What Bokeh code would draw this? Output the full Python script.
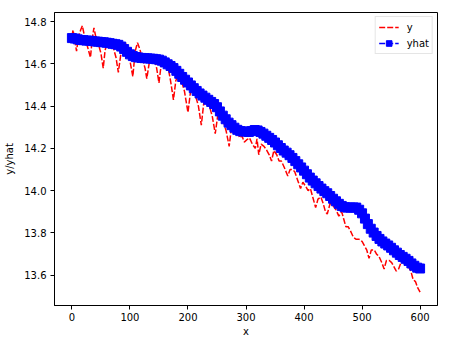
from bokeh.plotting import figure
from bokeh.models import ColumnDataSource, FixedTicker, NumeralTickFormatter, Range1d
from bokeh.embed import file_html
from bokeh.resources import INLINE

# observed series y (red dashed)
y_x = [0, 2, 5, 8, 11, 15, 18, 21, 25, 29, 32, 35, 38, 41, 45, 50, 54, 57, 61, 66,
       71, 76, 80, 84, 88, 92, 97, 101, 105, 109, 113, 117, 121, 126, 129, 133, 137, 142, 146, 150,
       154, 158, 162, 166, 170, 175, 179, 184, 189, 194, 200, 204, 208, 213, 218, 223, 227, 232, 237, 242,
       247, 251, 256, 261, 266, 271, 275, 279, 284, 289, 293, 297, 301, 306, 311, 316, 319, 322, 326, 331,
       336, 340, 344, 348, 353, 357, 361, 366, 372, 376, 380, 384, 389, 394, 398, 403, 407, 411, 415, 420,
       424, 429, 433, 437, 440, 445, 450, 455, 460, 465, 469, 472, 476, 480, 485, 490, 495, 500, 504, 508,
       512, 516, 521, 525, 529, 534, 538, 542, 547, 551, 555, 559, 563, 567, 571, 576, 580, 584, 588, 592,
       596, 600]
y_val = [14.73, 14.76, 14.71, 14.66, 14.72, 14.76, 14.78, 14.74, 14.70, 14.66, 14.63, 14.72, 14.77, 14.73, 14.70, 14.65, 14.58, 14.66, 14.71, 14.70,
         14.68, 14.63, 14.56, 14.64, 14.69, 14.70, 14.66, 14.60, 14.54, 14.66, 14.70, 14.67, 14.63, 14.58, 14.53, 14.60, 14.63, 14.63, 14.58, 14.51,
         14.60, 14.63, 14.60, 14.58, 14.52, 14.43, 14.52, 14.55, 14.52, 14.47, 14.37, 14.46, 14.48, 14.45, 14.40, 14.31, 14.41, 14.43, 14.40, 14.35,
         14.27, 14.35, 14.37, 14.33, 14.28, 14.21, 14.30, 14.33, 14.30, 14.25, 14.26, 14.23, 14.24, 14.25, 14.22, 14.20, 14.245, 14.17, 14.22, 14.21,
         14.19, 14.17, 14.14, 14.19, 14.17, 14.14, 14.14, 14.11, 14.07, 14.10, 14.10, 14.09, 14.05, 14.01, 14.04, 14.02, 14.00, 14.01, 13.97, 13.92,
         13.96, 13.97, 13.94, 13.90, 13.89, 13.94, 13.93, 13.91, 13.88, 13.90, 13.86, 13.83, 13.83, 13.81, 13.78, 13.77, 13.77, 13.76, 13.74, 13.72,
         13.68, 13.72, 13.72, 13.70, 13.69, 13.66, 13.63, 13.67, 13.67, 13.66, 13.64, 13.62, 13.63, 13.66, 13.66, 13.66, 13.64, 13.62, 13.58, 13.57,
         13.54, 13.52]

# fitted series yhat (blue squares)
yhat_x = list(range(0, 601, 5))
yhat_val = [14.722, 14.720, 14.716, 14.713, 14.712, 14.710, 14.710, 14.708, 14.706, 14.705,
            14.703, 14.702, 14.700, 14.698, 14.695, 14.693, 14.690, 14.682, 14.670, 14.657,
            14.645, 14.637, 14.632, 14.630, 14.628, 14.627, 14.626, 14.625, 14.624, 14.622,
            14.620, 14.615, 14.607, 14.598, 14.590, 14.580, 14.567, 14.553, 14.538, 14.525,
            14.512, 14.498, 14.485, 14.472, 14.460, 14.450, 14.440, 14.430, 14.420, 14.410,
            14.395, 14.375, 14.355, 14.338, 14.322, 14.310, 14.298, 14.288, 14.282, 14.280,
            14.280, 14.278, 14.282, 14.287, 14.285, 14.278, 14.270, 14.260, 14.250, 14.240,
            14.228, 14.215, 14.202, 14.190, 14.180, 14.168, 14.155, 14.140, 14.125, 14.110,
            14.095, 14.078, 14.062, 14.048, 14.035, 14.022, 14.010, 13.998, 13.988, 13.975,
            13.962, 13.950, 13.938, 13.928, 13.922, 13.920, 13.920, 13.921, 13.920, 13.910,
            13.893, 13.868, 13.842, 13.820, 13.802, 13.786, 13.772, 13.760, 13.750, 13.741,
            13.730, 13.718, 13.707, 13.696, 13.687, 13.678, 13.668, 13.656, 13.645, 13.636,
            13.632]

x_ticks = [0, 100, 200, 300, 400, 500, 600]
y_ticks = [13.6, 13.8, 14.0, 14.2, 14.4, 14.6, 14.8]

src_y = ColumnDataSource(dict(x=y_x, y=y_val))
src_h = ColumnDataSource(dict(x=yhat_x, y=yhat_val))

p = figure(width=445, height=340, output_backend="svg", toolbar_location=None,
           x_range=Range1d(-30, 630), y_range=Range1d(13.457, 14.843),
           min_border_left=54, min_border_right=8, min_border_top=12, min_border_bottom=35)

p.line("x", "y", source=src_y, line_color="#ff0000", line_width=1.5, line_dash="6 2", legend_label="y")
p.line("x", "y", source=src_h, line_color="#0000ff", line_width=1.5, line_dash="6 2", legend_label="yhat")
p.scatter("x", "y", source=src_h, marker="square", size=9, fill_color="#0000ff",
          line_color="#0000ff", legend_label="yhat")

p.xgrid.visible = False
p.ygrid.visible = False
p.outline_line_color = "black"
p.outline_line_width = 1
p.outline_line_alpha = 1

p.xaxis.ticker = FixedTicker(ticks=x_ticks)
p.yaxis.ticker = FixedTicker(ticks=y_ticks)
p.yaxis.formatter = NumeralTickFormatter(format="0.0")
p.xaxis.axis_label = "x"
p.yaxis.axis_label = "y/yhat"
for ax in (p.xaxis, p.yaxis):
    ax.minor_tick_line_color = None
    ax.major_tick_in = 0
    ax.major_tick_out = 4
    ax.major_tick_line_color = "black"
    ax.axis_line_color = "black"
    ax.major_label_text_font = "DejaVu Sans"
    ax.major_label_text_font_size = "10px"
    ax.major_label_text_color = "black"
    ax.axis_label_text_font = "DejaVu Sans"
    ax.axis_label_text_font_size = "10px"
    ax.axis_label_text_font_style = "normal"
    ax.axis_label_text_color = "black"
p.xaxis.major_label_standoff = 3
p.xaxis.axis_label_standoff = 2
p.yaxis.major_label_standoff = 4
p.yaxis.axis_label_standoff = 6

p.legend.location = "top_right"
p.legend.label_text_font = "DejaVu Sans"
p.legend.label_text_font_size = "10px"
p.legend.label_text_color = "black"
p.legend.border_line_color = "#cccccc"
p.legend.margin = 4
p.legend.padding = 3
p.legend.spacing = 2
p.legend.glyph_width = 20
p.legend.glyph_height = 14
p.legend.label_height = 14
p.legend.label_standoff = 8
p.legend.background_fill_alpha = 0.8

open("out.html", "w").write(file_html(p, INLINE))
